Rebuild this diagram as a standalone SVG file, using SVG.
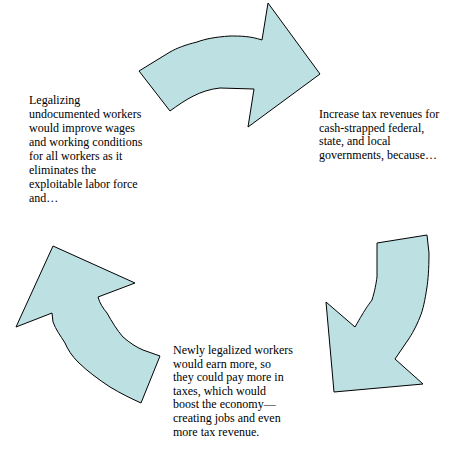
<svg xmlns="http://www.w3.org/2000/svg" width="472" height="473" viewBox="0 0 472 473">
<style>
.arrow{fill:#bde0e3;stroke:#000;stroke-width:1;stroke-linejoin:miter}
text{font-family:"Liberation Serif","Times New Roman",serif;font-size:12px;fill:#000}
</style>
<rect width="472" height="473" fill="#fff"/>
<g id="connectors">
<path id="arrow-top" class="arrow" d="M139,71 L170,111 C185,100 200,90 220,88 L254,89 L248,127 L320,74 L268,3 L262,40 C250,36 240,36 230,36 C215,37 205,39 197,42 C185,45 177,48 170,52 Z"/>
<path id="arrow-right" class="arrow" d="M377,243 L427,235 L429,253 C429,270 428,280 427,287 C425,300 423,310 420,317 C416,327 412,334 408,340 L395,359 L423,384 L334,392 L326,302 L355,327 C358,322 360,318 362,315 C366,308 369,304 372,300 C375,290 376,284 377,277 Z"/>
<path id="arrow-left" class="arrow" d="M53,246 L135,283 L98,297 C100,304 103,308 107,313 C112,322 117,330 123,337 C130,343 136,347 143,350 L160,356 L141,403 C130,398 120,393 110,387 C98,379 87,371 78,362 C72,356 68,350 65,343 C60,335 56,330 53,322 L52,313 L16,327 Z"/>
</g>
<g id="node-left">
<text x="29" y="104">Legalizing</text>
<text x="29" y="118">undocumented workers</text>
<text x="29" y="132">would improve wages</text>
<text x="29" y="146">and working conditions</text>
<text x="29" y="160">for all workers as it</text>
<text x="29" y="174">eliminates the</text>
<text x="29" y="188">exploitable labor force</text>
<text x="29" y="202">and…</text>
</g>
<g id="node-right">
<text x="319" y="118">Increase tax revenues for</text>
<text x="319" y="131.7">cash-strapped federal,</text>
<text x="319" y="145.4">state, and local</text>
<text x="319" y="159.1">governments, because…</text>
</g>
<g id="node-bottom">
<text x="173" y="354">Newly legalized workers</text>
<text x="173" y="367.6">would earn more, so</text>
<text x="173" y="381.2">they could pay more in</text>
<text x="173" y="394.8">taxes, which would</text>
<text x="173" y="408.4">boost the economy—</text>
<text x="173" y="422">creating jobs and even</text>
<text x="173" y="435.6">more tax revenue.</text>
</g>
</svg>
